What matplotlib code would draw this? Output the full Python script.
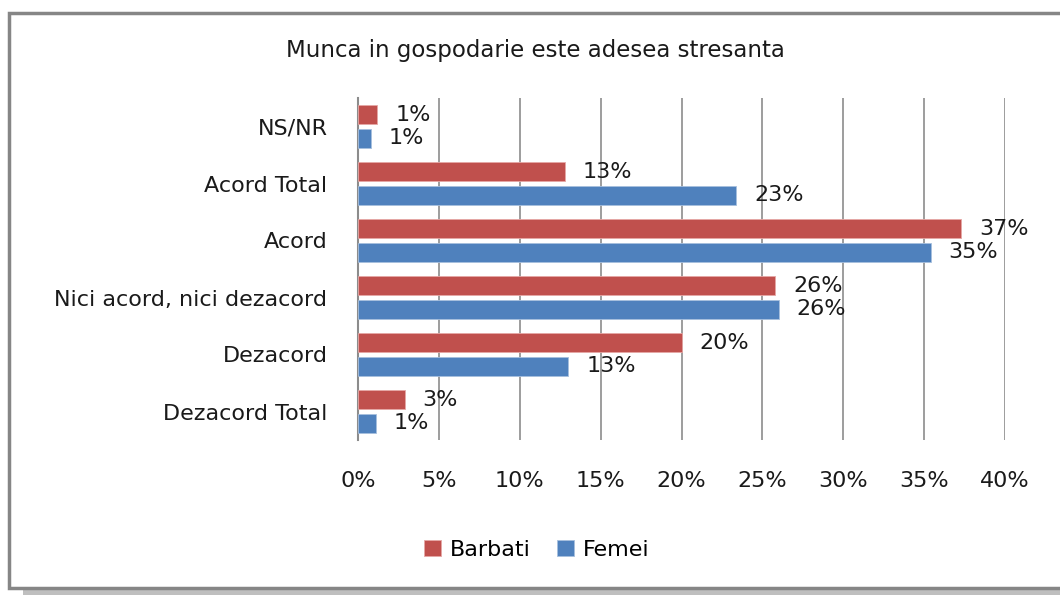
import matplotlib.pyplot as plt
from matplotlib.patches import Rectangle
import numpy as np

categories = ["NS/NR", "Acord Total", "Acord", "Nici acord, nici dezacord", "Dezacord", "Dezacord Total"]
barbati = [1.2, 12.8, 37.3, 25.8, 20.0, 2.9]
femei = [0.8, 23.4, 35.4, 26.0, 13.0, 1.1]
xticks = [0, 5, 10, 15, 20, 25, 30, 35, 40]

red = "#C0504D"
blue = "#4F81BD"
fs = 16

fig = plt.figure(figsize=(10.6, 5.95), dpi=100)

# chart frame with shadow
shadow = Rectangle((23 / 1060, 0 / 595), 1.0, 582 / 595, transform=fig.transFigure,
                   facecolor="#bfbfbf", edgecolor="none", zorder=0)
frame = Rectangle((9 / 1060, 7 / 595), 1.0, 575 / 595, transform=fig.transFigure,
                  facecolor="white", edgecolor="#868686", lw=2.5, zorder=1)
fig.patches.extend([shadow, frame])

ax = fig.add_axes([358 / 1060, 1 - 440 / 595, 647 / 1060, 342 / 595])
ax.set_zorder(2)
ax.patch.set_alpha(0)

y = np.arange(len(categories))
h = 0.32
off = 0.21
ax.barh(y - off, barbati, height=h, color=red, edgecolor="#e6a7a5", lw=0.6, label="Barbati", zorder=3)
ax.barh(y + off, femei, height=h, color=blue, edgecolor="#a7c0de", lw=0.6, label="Femei", zorder=3)

for i in range(len(categories)):
    ax.text(barbati[i] + 1.1, y[i] - off, f"{barbati[i]:.0f}%", va="center", ha="left",
            fontsize=fs, color="#1a1a1a", zorder=4)
    ax.text(femei[i] + 1.1, y[i] + off, f"{femei[i]:.0f}%", va="center", ha="left",
            fontsize=fs, color="#1a1a1a", zorder=4)

ax.set_xlim(0, 40)
ax.set_ylim(len(categories) - 0.5, -0.5)
ax.set_xticks(xticks)
ax.set_xticklabels([f"{t}%" for t in xticks], fontsize=fs, color="#1a1a1a")
ax.set_yticks(y)
ax.set_yticklabels(categories, fontsize=fs, color="#1a1a1a")
ax.tick_params(axis="y", length=0, pad=22)
ax.tick_params(axis="x", length=0, pad=22)
ax.xaxis.grid(True, color="#8c8c8c", lw=1.2, zorder=0)
ax.set_axisbelow(True)
for s in ["top", "right", "bottom"]:
    ax.spines[s].set_visible(False)
ax.spines["left"].set_color("#8c8c8c")
ax.spines["left"].set_linewidth(1.5)

fig.text(535 / 1060, 1 - 50 / 595, "Munca in gospodarie este adesea stresanta",
         ha="center", va="center", fontsize=16.5, color="#1a1a1a")

ax.legend(loc="center", bbox_to_anchor=(537 / 1060, 1 - 550 / 595), bbox_transform=fig.transFigure,
          ncol=2, frameon=False, fontsize=fs, handlelength=0.75, handleheight=0.75,
          handletextpad=0.4, columnspacing=1.2)

fig.savefig("out.png", dpi=100)
